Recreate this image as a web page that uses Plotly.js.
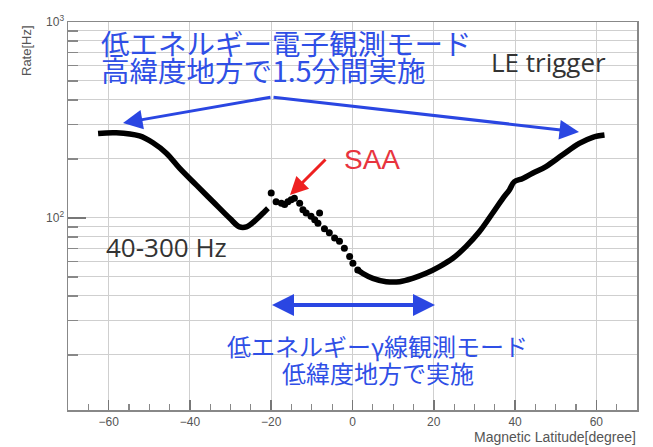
<!DOCTYPE html>
<html>
<head>
<meta charset="utf-8">
<script src="https://cdn.plot.ly/plotly-3.0.1.min.js"></script>
<style>html,body{margin:0;padding:0;background:#fff;}#chart{width:653px;height:447px;}</style>
</head>
<body>
<div id="chart"></div>
<script>
// Data (magnetic latitude in degrees, rate in Hz)
const latLeft  = [-62.6, -58.1, -52.4, -49.1, -45.8, -42.5, -38.4, -34.3, -30.2, -27.8, -26.1, -23.7, -21.6, -20.8];
const rateLeft = [270, 272, 262, 242, 214, 179, 147, 121, 99.6, 90, 90, 98, 108, 112];

const latSAA  = [-20.0, -18.8, -17.5, -16.7, -15.9, -15.1, -14.3, -13.0, -12.2, -11.4, -10.2, -9.3, -8.5, -8.1, -6.9, -5.7, -4.4, -3.2, -2.0, -0.7, 0.1, 1.3];
const rateSAA = [134, 121, 119, 117, 121, 124, 126, 119, 110, 106, 102, 98, 94, 106, 88, 84, 79, 76, 70, 63.5, 58.7, 54.3];

const latRight  = [1.3, 2.5, 5.0, 8.3, 11.6, 14.8, 18.1, 21.4, 24.7, 27.9, 31.2, 34.5, 37.0, 38.6, 39.8, 41.9, 44.3, 47.6, 51.7, 55.8, 59.1, 62.0];
const rateRight = [54.3, 52.2, 49.2, 47.3, 47.3, 49.2, 52.2, 56.5, 62.3, 71.4, 85, 106, 126, 139, 153, 159, 169, 183, 210, 240, 258, 265];

const xTickVals = [-60, -40, -20, 0, 20, 40, 60];
const yTickVals = [100, 1000];
const yTickText = ['10<sup>2</sup>', '10<sup>3</sup>'];
const yMinorVals = [20, 30, 40, 50, 60, 70, 80, 90, 200, 300, 400, 500, 600, 700, 800, 900];

// layout helpers (pixel -> paper)
const L = 68, R = 637, T = 22, B = 410;
const px = x => (x - L) / (R - L);
const py = y => (B - y) / (B - T);

const blue = '#2f4fe6';
const arrowBlue = '#2a46e2';
const jp = '"Noto Sans CJK JP", sans-serif';
const grey = '#555';

const traces = [
  {x: latLeft, y: rateLeft, mode: 'lines', line: {color: '#000', width: 5.5, shape: 'spline'}, hoverinfo: 'skip'},
  {x: latSAA, y: rateSAA, mode: 'markers', marker: {color: '#000', size: 7}, hoverinfo: 'skip'},
  {x: latRight, y: rateRight, mode: 'lines', line: {color: '#000', width: 5.5, shape: 'spline'}, hoverinfo: 'skip'}
];

const ann = [];
function txt(t, x, y, size, color, family, xanchor, extra) {
  ann.push(Object.assign({text: t, xref: 'paper', yref: 'paper', x: px(x), y: py(y), showarrow: false,
    xanchor: xanchor || 'center', yanchor: 'middle', font: {size: size, color: color, family: family}}, extra || {}));
}
function arrow(tipX, tipY, tailX, tailY, color, width, size) {
  ann.push({text: '', xref: 'paper', yref: 'paper', x: px(tipX), y: py(tipY), ax: tailX - tipX, ay: tailY - tipY,
    showarrow: true, arrowhead: 2, arrowsize: size, arrowwidth: width, arrowcolor: color});
}

txt('低エネルギー電子観測モード', 99, 42, 28.5, blue, jp, 'left');
txt('高緯度地方で1.5分間実施', 99, 69, 28.5, blue, jp, 'left');
txt('LE trigger', 548, 62, 26, '#333', '"Open Sans", sans-serif');
txt('SAA', 372, 160, 28, '#e8343e', '"Liberation Sans", sans-serif');
txt('40-300 Hz', 166, 247, 26, '#333', '"Open Sans", sans-serif');
txt('低エネルギーγ線観測モード', 377, 345, 24, blue, jp);
txt('低緯度地方で実施', 378, 372, 24, blue, jp);
txt('Rate[Hz]', 27, 51, 13, grey, '"Liberation Sans", sans-serif', 'center', {textangle: -90});
txt('Magnetic Latitude[degree]', 638, 437, 14, grey, '"Liberation Sans", sans-serif', 'right');

arrow(123, 123, 272, 97, arrowBlue, 3, 1.3);
arrow(579, 132, 272, 97, arrowBlue, 3, 1.3);
arrow(272, 305, 362, 305, arrowBlue, 4, 1.1);
arrow(435, 305, 346, 305, arrowBlue, 4, 1.1);
arrow(290, 195, 327, 158, '#ee2020', 3, 1.2);

const layout = {
  width: 653, height: 447,
  margin: {l: L, r: 653 - R, t: T, b: 447 - B},
  paper_bgcolor: '#fff', plot_bgcolor: '#fff',
  showlegend: false,
  font: {family: '"Liberation Sans", sans-serif', color: grey, size: 12},
  xaxis: {
    range: [-70, 70], tickmode: 'array', tickvals: xTickVals,
    ticks: 'inside', ticklen: 10, tickwidth: 1.5, tickcolor: '#777',
    showgrid: true, gridcolor: '#cfcfcf', gridwidth: 1, zeroline: false,
    showline: true, mirror: true, linecolor: '#888', linewidth: 1.5,
    tickfont: {size: 12, color: grey},
    minor: {dtick: 5, ticks: 'inside', ticklen: 6, tickwidth: 1.2, tickcolor: '#888', showgrid: false}
  },
  yaxis: {
    type: 'log', range: [1.02, 3],
    tickmode: 'array', tickvals: yTickVals, ticktext: yTickText,
    ticks: 'inside', ticklen: 18, tickwidth: 1.5, tickcolor: '#777',
    showgrid: true, gridcolor: '#cfcfcf', gridwidth: 1, zeroline: false,
    showline: true, mirror: true, linecolor: '#888', linewidth: 1.5,
    tickfont: {size: 12, color: grey},
    minor: {tickmode: 'array', tickvals: yMinorVals, ticks: 'inside', ticklen: 10, tickwidth: 1.2, tickcolor: '#888',
            showgrid: true, gridcolor: '#cfcfcf', gridwidth: 1}
  },
  annotations: ann
};

Plotly.newPlot('chart', traces, layout, {staticPlot: true, displayModeBar: false});
</script>
</body>
</html>
